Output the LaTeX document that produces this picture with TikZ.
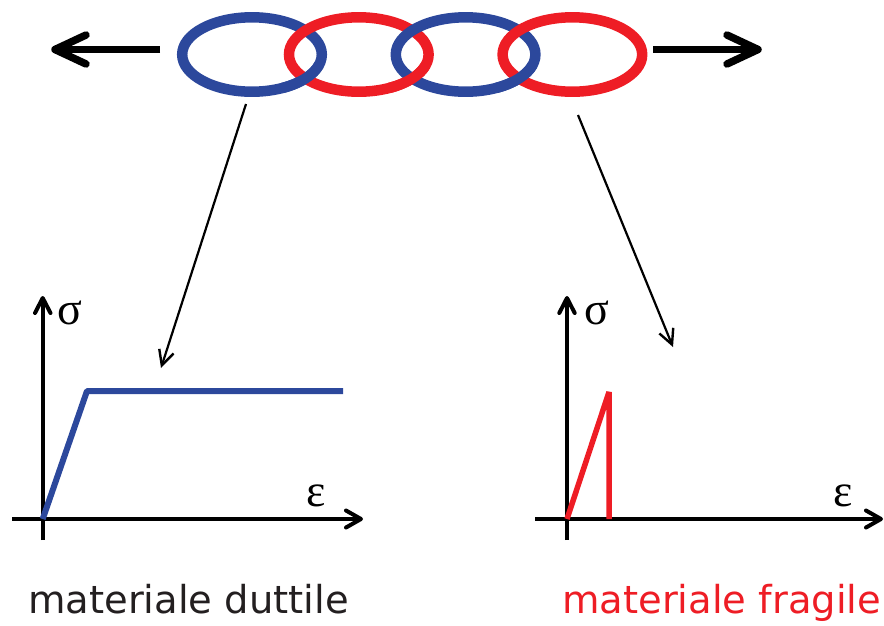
\documentclass[tikz,border=0pt]{standalone}
\usepackage{fontspec}
\setmainfont{DejaVu Sans}
\newfontfamily\grk{Liberation Serif}
\usetikzlibrary{arrows.meta}
\definecolor{ringblue}{HTML}{2C489C}
\definecolor{ringred}{HTML}{EE1D25}
\definecolor{txtblack}{HTML}{231F20}
\begin{document}
\begin{tikzpicture}[x=1pt,y=-1pt,
  ring/.style={line width=10.5pt},
  bigarrow/.style={line width=7.5pt,line cap=round,line join=round},
  axis/.style={line width=4pt},
  axtip/.style={line width=4pt,line cap=round,line join=round},
  pointer/.style={line width=2.2pt,-{Straight Barb[length=15pt,width=15pt,line width=2.4pt]}},
  curve/.style={line width=6pt,line join=bevel},
  lbl/.style={font=\fontsize{38.5}{40}\selectfont,anchor=base west,inner sep=0pt},
  greek/.style={font=\grk\fontsize{46}{48}\selectfont,inner sep=0pt}
]
\useasboundingbox (0,0) rectangle (884,625);
% ring centres
\coordinate (r1) at (252,54.5);
\coordinate (r2) at (358.8,54.5);
\coordinate (r3) at (465.6,54.5);
\coordinate (r4) at (572.4,54.5);
\draw[ring,ringblue] (r1) ellipse [x radius=69.8pt,y radius=37.2pt];
\draw[ring,ringred]  (r2) ellipse [x radius=69.8pt,y radius=37.2pt];
\draw[ring,ringblue] (r3) ellipse [x radius=69.8pt,y radius=37.2pt];
\draw[ring,ringred]  (r4) ellipse [x radius=69.8pt,y radius=37.2pt];
% interlacing: left ring over at the lower crossing
\draw[ring,ringblue] (r1) ++(-64:69.8pt and 37.2pt) arc[start angle=-64,end angle=-16,x radius=69.8pt,y radius=37.2pt];
\draw[ring,ringred]  (r2) ++(-64:69.8pt and 37.2pt) arc[start angle=-64,end angle=-16,x radius=69.8pt,y radius=37.2pt];
\draw[ring,ringblue] (r3) ++(-64:69.8pt and 37.2pt) arc[start angle=-64,end angle=-16,x radius=69.8pt,y radius=37.2pt];
% pulling arrows
\coordinate (la0) at (160,49.5);
\coordinate (la1) at (58,49.5);
\coordinate (lt) at (55,49.5);
\coordinate (lb1) at (86,35);
\coordinate (lb2) at (86,64);
\draw[line width=7.5pt] (la0) -- (la1);
\draw[bigarrow] (lb1) -- (lt) -- (lb2);
\coordinate (ra0) at (653,49.5);
\coordinate (ra1) at (755,49.5);
\coordinate (rt) at (758,49.5);
\coordinate (rb1) at (727,35);
\coordinate (rb2) at (727,64);
\draw[line width=7.5pt] (ra0) -- (ra1);
\draw[bigarrow] (rb1) -- (rt) -- (rb2);
% left graph
\coordinate (o1) at (42.7,519);
\coordinate (y1b) at (42.7,540);
\coordinate (y1t) at (42.7,298);
\coordinate (x1l) at (12,519);
\coordinate (x1r) at (361,519);
\draw[axis] (y1b) -- (y1t);
\draw[axis] (x1l) -- (x1r);
\draw[axtip] (35,313) -- (y1t) -- (50.5,313);
\draw[axtip] (346,510.5) -- (x1r) -- (346,527.5);
\node[greek] (s1) at (70,313) {σ};
\node[greek] (e1) at (316,496) {ε};
\coordinate (k1) at (87,391);
\coordinate (p1) at (343,391);
\draw[curve,ringblue] (o1) -- (k1) -- (p1);
% right graph
\coordinate (o2) at (567,519);
\coordinate (y2b) at (567,540);
\coordinate (y2t) at (567,298);
\coordinate (x2l) at (535,519);
\coordinate (x2r) at (881,519);
\draw[axis] (y2b) -- (y2t);
\draw[axis] (x2l) -- (x2r);
\draw[axtip] (559.3,313) -- (y2t) -- (574.7,313);
\draw[axtip] (866,510.5) -- (x2r) -- (866,527.5);
\node[greek] (s2) at (597,313) {σ};
\node[greek] (e2) at (843,496) {ε};
\coordinate (k2) at (609,392);
\coordinate (b2) at (609,519);
\draw[curve,ringred,line width=5.5pt] (o2) -- (k2) -- (b2);
% pointers
\coordinate (pa) at (246,104);
\coordinate (pb) at (161,368);
\coordinate (pc) at (578,115);
\coordinate (pd) at (673,347);
\draw[pointer] (pa) -- (pb);
\draw[pointer] (pc) -- (pd);
% labels
\node[lbl,txtblack] (t1) at (28,613) {materiale duttile};
\node[lbl,ringred] (t2) at (562,613) {materiale fragile};
\end{tikzpicture}
\end{document}
